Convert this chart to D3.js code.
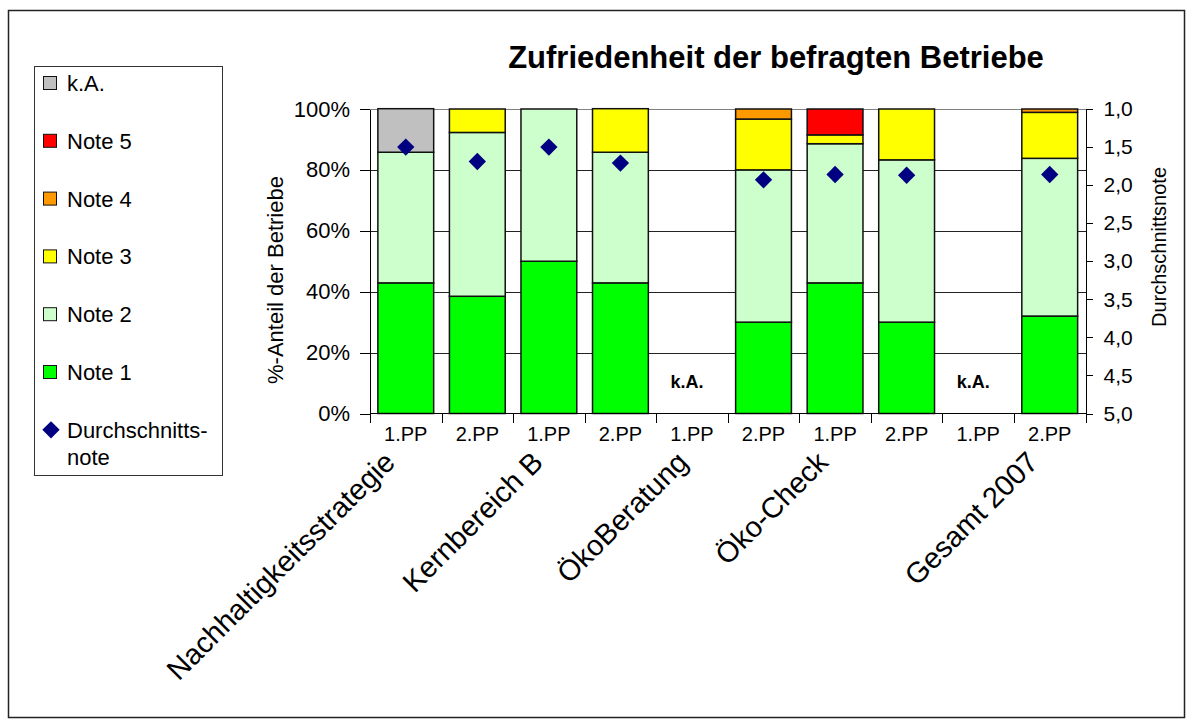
<!DOCTYPE html>
<html>
<head>
<meta charset="UTF-8" />
<title>Zufriedenheit der befragten Betriebe</title>
<script src="https://d3js.org/d3.v7.min.js"></script>
<style>
	body { margin: 0; background: #fff; }
	text { font-family: "Liberation Sans", Arial, sans-serif; fill: #000; }
	.axis path, .axis line { stroke: #000; shape-rendering: crispEdges; }
	.bar { stroke: #111; stroke-width: 1.5; }
</style>
</head>
<body>
<script type="text/javascript">
// groups and sub categories
var categories = ["Nachhaltigkeitsstrategie", "Kernbereich B", "ÖkoBeratung", "Öko-Check", "Gesamt 2007"];
var periods = ["1.PP", "2.PP"];

// share of companies per grade, % (one value per bar, 10 bars)
var note1 = [42.9, 38.5, 50.0, 42.9, 0, 30.0, 42.9, 30.0, 0, 32.0];
var note2 = [42.9, 53.8, 50.0, 42.9, 0, 50.0, 45.7, 53.3, 0, 51.8];
var note3 = [0, 7.7, 0, 14.3, 0, 16.7, 2.9, 16.7, 0, 15.1];
var note4 = [0, 0, 0, 0, 0, 3.3, 0, 0, 0, 1.1];
var note5 = [0, 0, 0, 0, 0, 0, 8.5, 0, 0, 0];
var keineAngabe = [14.3, 0, 0, 0, 0, 0, 0, 0, 0, 0];

// average grade (right axis)
var durchschnitt = [1.5, 1.69, 1.5, 1.71, null, 1.93, 1.86, 1.87, null, 1.86];

var pctTicks = [0, 20, 40, 60, 80, 100];
var noteTicks = [1, 1.5, 2, 2.5, 3, 3.5, 4, 4.5, 5];

var seriesKeys = ["n1", "n2", "n3", "n4", "n5", "ka"];
var seriesColors = {n1: "#00ff00", n2: "#ccffcc", n3: "#ffff00", n4: "#ff9900", n5: "#ff0000", ka: "#c0c0c0"};
var legendItems = [
	{key: "ka", label: "k.A."},
	{key: "n5", label: "Note 5"},
	{key: "n4", label: "Note 4"},
	{key: "n3", label: "Note 3"},
	{key: "n2", label: "Note 2"},
	{key: "n1", label: "Note 1"}
];

var width = 1192;
var height = 726;
var plotLeft = 370, plotRight = 1085.5, plotTop = 109, plotBottom = 413.5;

var svg = d3.select("body").append("svg").attr("width", width).attr("height", height);

// outer frame
svg.append("rect").attr("x", 8.5).attr("y", 10.5).attr("width", 1176).attr("height", 707)
	.attr("fill", "#fff").attr("stroke", "#222").attr("stroke-width", 1.5);

var nBars = categories.length * periods.length;
var rows = d3.range(nBars).map(function(i) {
	return {i: i, n1: note1[i], n2: note2[i], n3: note3[i], n4: note4[i], n5: note5[i], ka: keineAngabe[i], avg: durchschnitt[i]};
});

var x = d3.scaleBand().domain(d3.range(nBars)).range([plotLeft, plotRight]).paddingInner(0.22).paddingOuter(0.11);
var y = d3.scaleLinear().domain([0, 100]).range([plotBottom, plotTop]);
var y2 = d3.scaleLinear().domain([1, 5]).range([plotTop, plotBottom]);

// gridlines
svg.append("g").selectAll("line").data(pctTicks.filter(function(d) { return d > 0; })).enter().append("line")
	.style("stroke", function(d) { return d === 100 ? "#808080" : "#222"; })
	.style("shape-rendering", "crispEdges")
	.attr("x1", plotLeft).attr("x2", plotRight)
	.attr("y1", function(d) { return Math.round(y(d)) + 0.5; })
	.attr("y2", function(d) { return Math.round(y(d)) + 0.5; });

// stacked bars
var stacked = d3.stack().keys(seriesKeys)(rows);
svg.append("g").selectAll("g").data(stacked).enter().append("g")
	.attr("fill", function(s) { return seriesColors[s.key]; })
	.selectAll("rect").data(function(s) { return s.filter(function(d) { return d[1] - d[0] > 0; }); })
	.enter().append("rect")
	.attr("class", "bar")
	.attr("x", function(d) { return x(d.data.i); })
	.attr("width", x.bandwidth())
	.attr("y", function(d) { return y(d[1]); })
	.attr("height", function(d) { return y(d[0]) - y(d[1]); });

// "k.A." for bars without answers
svg.append("g").selectAll("text").data(rows.filter(function(r) { return r.avg === null; })).enter().append("text")
	.attr("x", function(d) { return x(d.i) + x.bandwidth() / 2 - 5; })
	.attr("y", 388)
	.attr("text-anchor", "middle")
	.style("font-weight", "bold").style("font-size", "18px")
	.text("k.A.");

// average markers
var diamond = d3.symbol().type(d3.symbolSquare).size(150);
svg.append("g").selectAll("path").data(rows.filter(function(r) { return r.avg !== null; })).enter().append("path")
	.attr("d", diamond)
	.attr("fill", "#000080")
	.attr("transform", function(d) { return "translate(" + (x(d.i) + x.bandwidth() / 2) + "," + y2(d.avg) + ") rotate(45)"; });

// left axis
var gl = svg.append("g").attr("class", "axis").attr("transform", "translate(" + plotLeft + ",0)")
	.call(d3.axisLeft(y).tickValues(pctTicks).tickSize(10).tickSizeOuter(0).tickPadding(10)
		.tickFormat(function(d) { return d + "%"; }));
gl.selectAll("text").style("font-size", "22px").style("font-family", "'Liberation Sans', Arial, sans-serif");

// right axis
var de = d3.formatLocale({decimal: ",", thousands: ".", grouping: [3], currency: ["", "€"]});
var gr = svg.append("g").attr("class", "axis").attr("transform", "translate(" + plotRight + ",0)")
	.call(d3.axisRight(y2).tickValues(noteTicks).tickSize(7).tickSizeOuter(0).tickPadding(11)
		.tickFormat(de.format(".1f")));
gr.selectAll("text").style("font-size", "21px").style("font-family", "'Liberation Sans', Arial, sans-serif");

// bottom axis: line, ticks between bars, period labels
var gb = svg.append("g").attr("class", "axis");
gb.append("line").attr("x1", plotLeft).attr("x2", plotRight).attr("y1", plotBottom).attr("y2", plotBottom);
gb.selectAll(".tk").data(d3.range(nBars + 1)).enter().append("line")
	.attr("class", "tk")
	.attr("x1", function(k) { return Math.round(plotLeft + k * x.step()) + 0.5; })
	.attr("x2", function(k) { return Math.round(plotLeft + k * x.step()) + 0.5; })
	.attr("y1", plotBottom).attr("y2", plotBottom + 9);
gb.selectAll("text").data(rows).enter().append("text")
	.attr("x", function(d) { return x(d.i) + x.bandwidth() / 2; })
	.attr("y", 441)
	.attr("text-anchor", "middle")
	.style("font-size", "20px")
	.text(function(d) { return periods[d.i % periods.length]; });

// group labels, rotated
var labelDx = [-45, -40, -38, -41, 26];
svg.append("g").selectAll("text").data(categories).enter().append("text")
	.attr("transform", function(d, g) {
		var cx = plotLeft + (g * 2 + 1) * x.step() + labelDx[g];
		return "translate(" + cx + ",464) rotate(-45)";
	})
	.attr("text-anchor", "end")
	.style("font-size", "29px")
	.text(function(d) { return d; });

// axis titles
svg.append("text").attr("transform", "translate(283,280) rotate(-90)")
	.attr("text-anchor", "middle").style("font-size", "22px").text("%-Anteil der Betriebe");
svg.append("text").attr("transform", "translate(1166,247) rotate(-90)")
	.attr("text-anchor", "middle").style("font-size", "20px").text("Durchschnittsnote");

// title
svg.append("text").attr("x", 776).attr("y", 68).attr("text-anchor", "middle")
	.style("font-size", "31px").style("font-weight", "bold")
	.text("Zufriedenheit der befragten Betriebe");

// legend
var lg = svg.append("g");
lg.append("rect").attr("x", 34.5).attr("y", 66.5).attr("width", 188).attr("height", 409)
	.attr("fill", "#fff").attr("stroke", "#333");
var li = lg.selectAll("g").data(legendItems).enter().append("g")
	.attr("transform", function(d, k) { return "translate(43," + (83 + k * 57.8) + ")"; });
li.append("rect").attr("x", 0.5).attr("y", -6.5).attr("width", 13).attr("height", 13)
	.attr("fill", function(d) { return seriesColors[d.key]; }).attr("stroke", "#111");
li.append("text").attr("x", 24).attr("y", 8).style("font-size", "22px").text(function(d) { return d.label; });
var lm = lg.append("g").attr("transform", "translate(43," + (83 + 6 * 57.8) + ")");
lm.append("path").attr("d", diamond).attr("fill", "#000080").attr("transform", "translate(8,0) rotate(45)");
lm.append("text").attr("x", 24).attr("y", 8).style("font-size", "22px").text("Durchschnitts-");
lm.append("text").attr("x", 24).attr("y", 35).style("font-size", "22px").text("note");
</script>
</body>
</html>
